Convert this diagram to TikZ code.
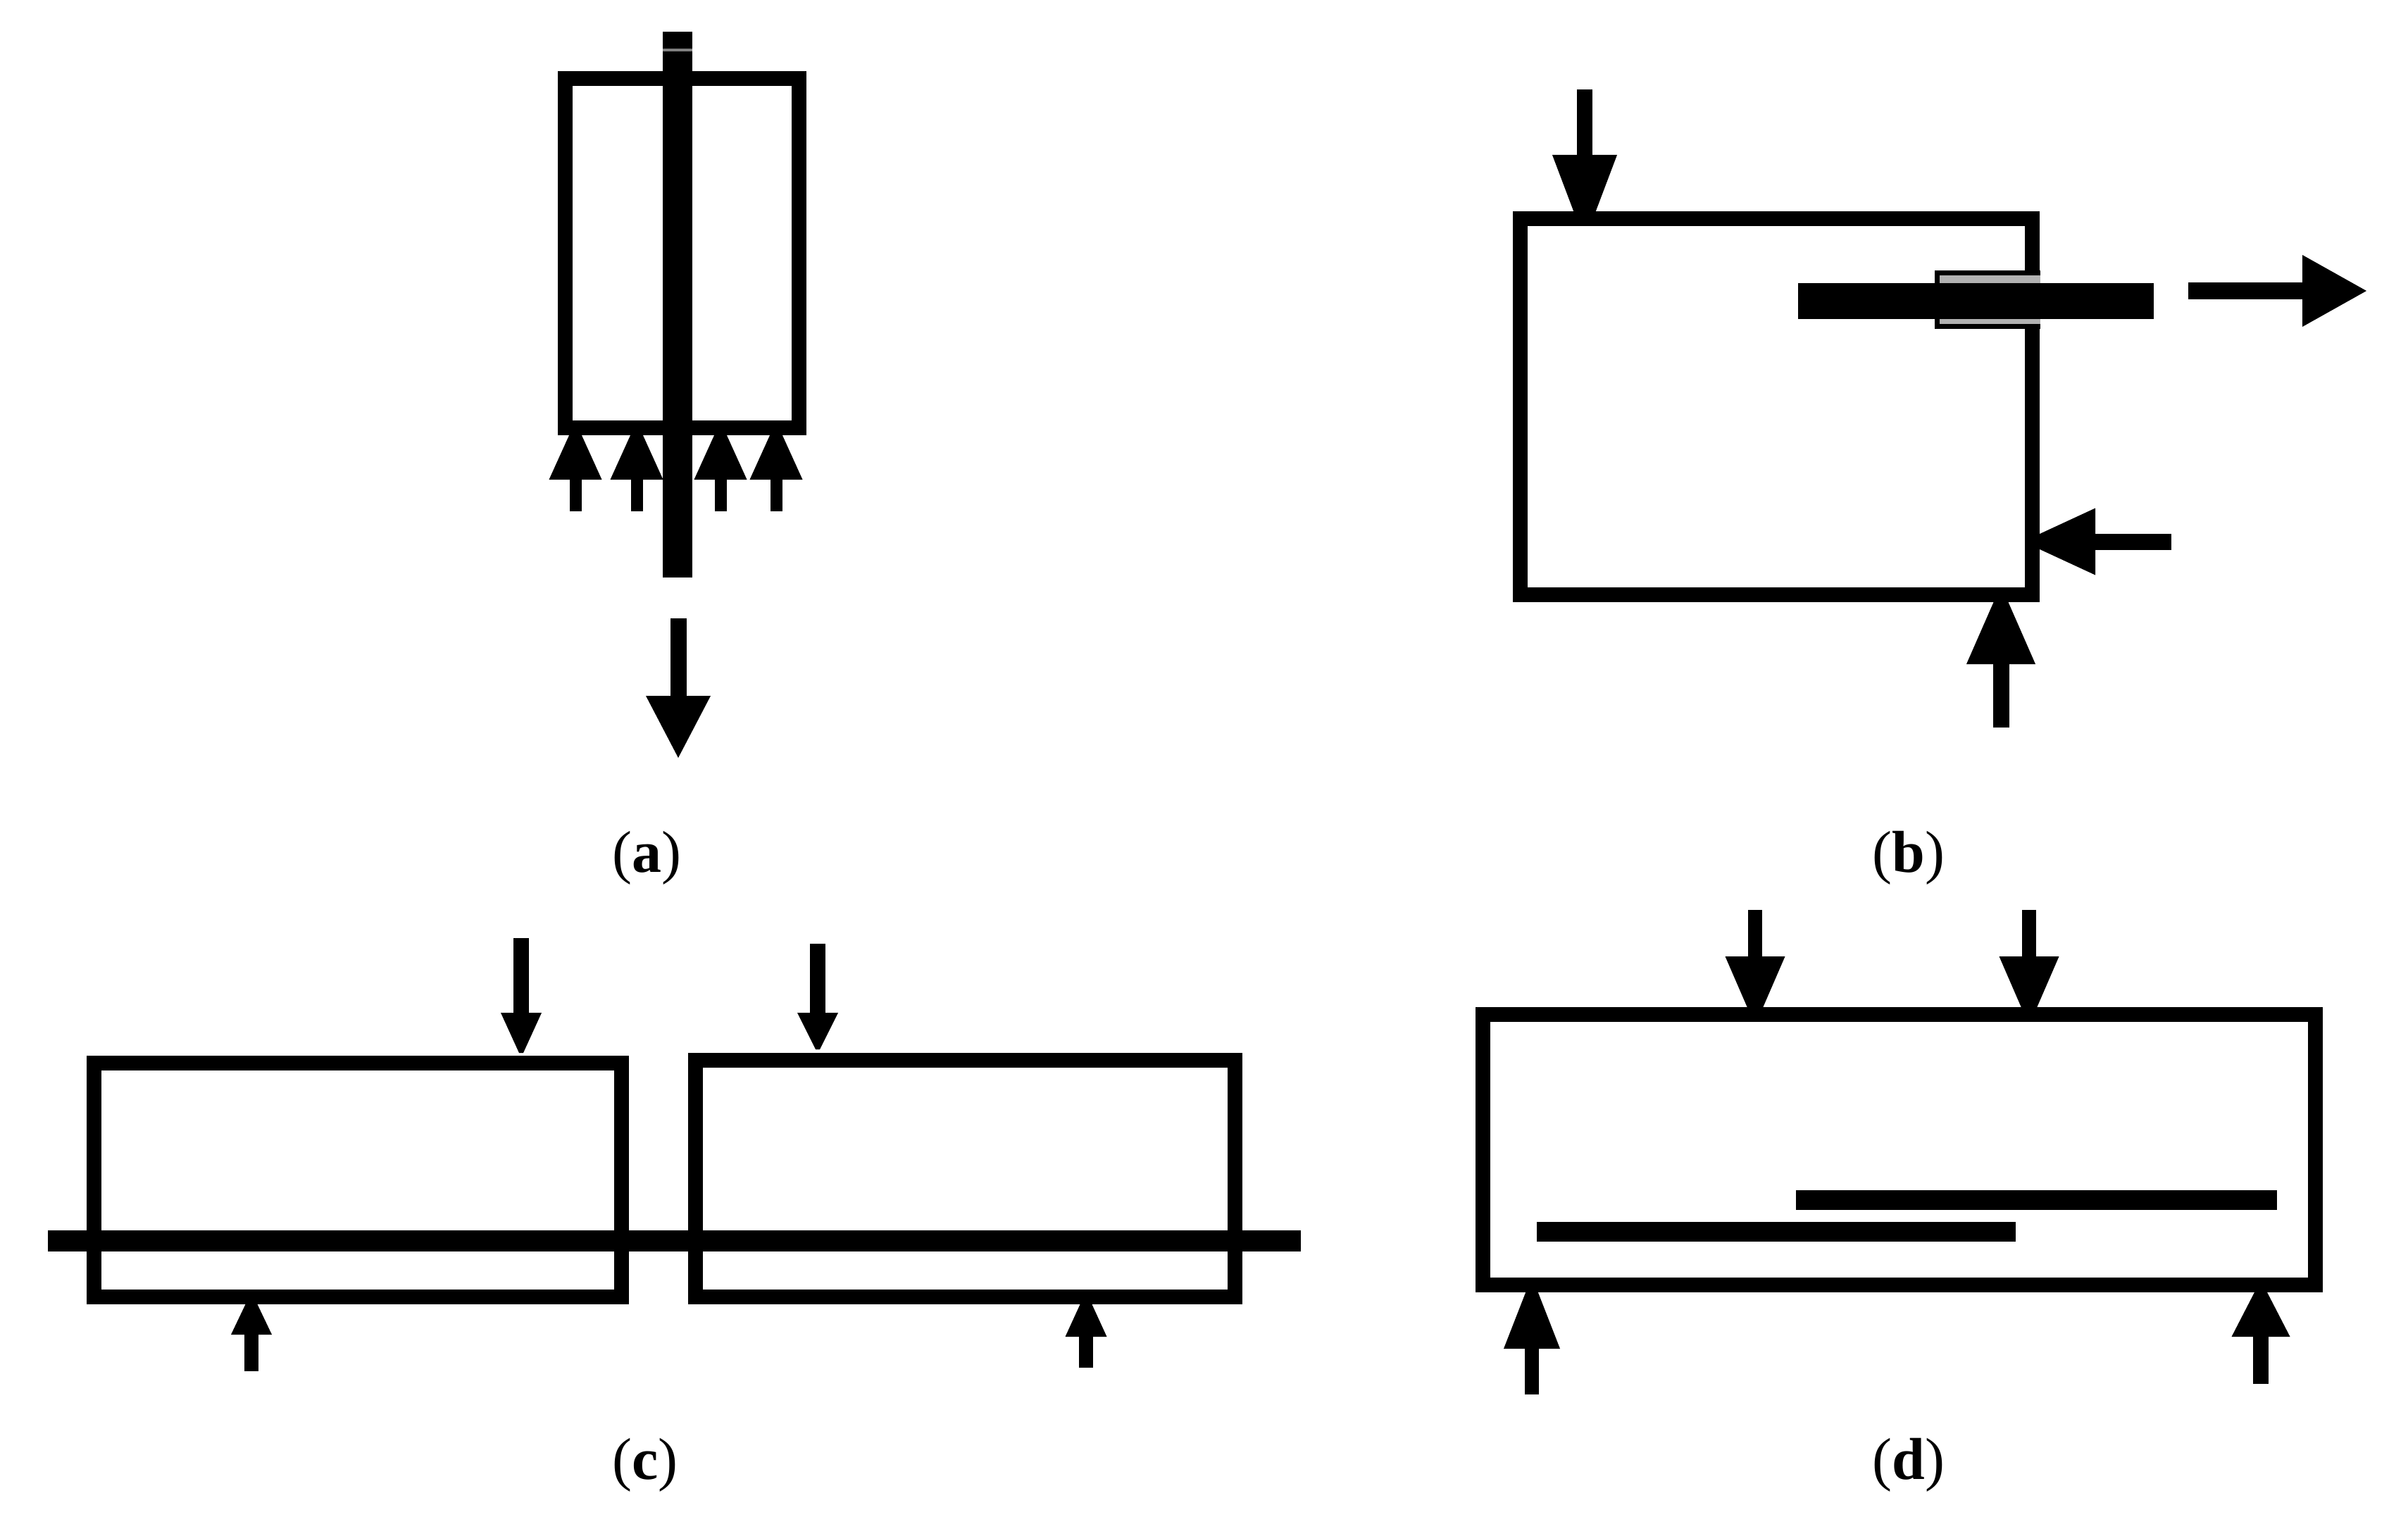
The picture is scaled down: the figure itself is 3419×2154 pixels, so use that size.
\documentclass[tikz,border=0pt]{standalone}
\usepackage{fontspec}
\setmainfont{Liberation Serif}
\tikzset{
  x=1pt,y=-1pt,
  frame/.style={draw=black,line width=21pt,fill=none,miter limit=10},
  rodbar/.style={fill=black,draw=none},
  sleeve/.style={draw=black,line width=7pt,fill=none},
  shaft/.style={draw=black,line width=#1pt},
  headfill/.style={fill=black,draw=none},
  caption/.style={inner sep=0pt,anchor=center,font=\fontsize{84}{90}\selectfont,text=black}
}
% vertical force: x, tail y, head-base y, end y, head width, end width, shaft width
\newcommand{\vforce}[7]{%
  \draw[shaft=#7] (#1,#2) -- (#1,#3);
  \fill[headfill] ({#1-#5/2},#3) -- ({#1+#5/2},#3) -- ({#1+#6/2},#4) -- ({#1-#6/2},#4) -- cycle;}
% horizontal force: y, tail x, head-base x, end x, head width, end width, shaft width
\newcommand{\hforce}[7]{%
  \draw[shaft=#7] (#2,#1) -- (#3,#1);
  \fill[headfill] (#3,{#1-#5/2}) -- (#3,{#1+#5/2}) -- (#4,{#1+#6/2}) -- (#4,{#1-#6/2}) -- cycle;}
\begin{document}
\begin{tikzpicture}
\useasboundingbox[fill=white] (0,0) rectangle (3419,2154);
% panel a
\draw[frame] (802,112) rectangle (1134,607);
\fill[rodbar] (941,45) rectangle (983,820);
\fill[black!50] (941,69) rectangle (983,73);
\vforce{817}{726}{681}{616}{75}{16}{17}
\vforce{904}{726}{681}{616}{75}{16}{17}
\vforce{1023}{726}{681}{616}{75}{16}{17}
\vforce{1102}{726}{681}{616}{75}{16}{17}
\vforce{963}{878}{988}{1076}{92}{0}{23}
\node[caption] (capa) at (918,1218) {(\textbf{a})};
% panel b
\draw[frame] (2158,310) rectangle (2885,844);
\fill[black!30] (2750,390) rectangle (2897,460);
\draw[sleeve] (2897,387) -- (2750,387) -- (2750,463) -- (2897,463);
\fill[rodbar] (2553,402) rectangle (3058,453);
\hforce{413}{3107}{3269}{3360}{102}{0}{24}
\vforce{2250}{127}{220}{302}{92}{30}{22}
\hforce{769}{3083}{2975}{2894}{95}{20}{23}
\vforce{2841}{1033}{943}{854}{98}{20}{23}
\node[caption] (capb) at (2710,1218) {(\textbf{b})};
% panel c
\draw[frame] (133,1509) rectangle (882,1841);
\draw[frame] (987,1505) rectangle (1753,1841);
\fill[rodbar] (68,1747) rectangle (1847,1777);
\vforce{740}{1332}{1438}{1495}{58}{6}{22}
\vforce{1161}{1340}{1438}{1490}{58}{6}{22}
\vforce{357}{1947}{1895}{1850}{58}{15}{20}
\vforce{1542}{1942}{1898}{1850}{59}{15}{20}
\node[caption] (capc) at (916,2080) {(\textbf{c})};
% panel d
\draw[frame] (2105,1440) rectangle (3287,1824);
\fill[rodbar] (2182,1735) rectangle (2862,1763);
\fill[rodbar] (2550,1690) rectangle (3233,1718);
\vforce{2881}{1292}{1358}{1433}{85}{20}{20}
\vforce{2492}{1292}{1358}{1433}{85}{20}{20}
\vforce{2175}{1980}{1915}{1833}{80}{16}{20}
\vforce{3210}{1965}{1898}{1833}{83}{16}{22}
\node[caption] (capd) at (2710,2080) {(\textbf{d})};
\end{tikzpicture}
\end{document}
